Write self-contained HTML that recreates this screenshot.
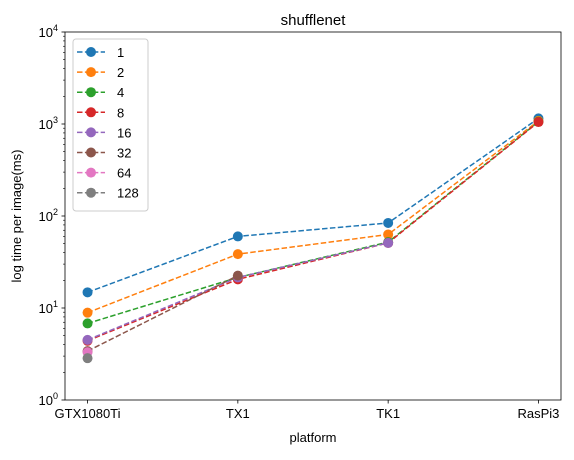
<!DOCTYPE html>
<html><head><meta charset="utf-8"><style>body{margin:0;background:#fff}svg{font-family:"Liberation Sans","DejaVu Sans",sans-serif}</style></head>
<body>
<svg id="c" width="574" height="455" xmlns="http://www.w3.org/2000/svg"></svg>
<script>
const categories=["GTX1080Ti","TX1","TK1","RasPi3"];
const seriesNames=["1","2","4","8","16","32","64","128"];
const colors=["#1f77b4","#ff7f0e","#2ca02c","#d62728","#9467bd","#8c564b","#e377c2","#7f7f7f"];
const s1=[14.8,60,84,1150];
const s2=[8.9,38.5,63,1080];
const s4=[6.8,21.5,52,1060];
const s8=[4.4,20.5,51,1050];
const s16=[4.5,21.5,51];
const s32=[3.4,22.5];
const s64=[3.3];
const s128=[2.85];
const seriesValues=[s1,s2,s4,s8,s16,s32,s64,s128];
const yTicks=[1,10,100,1000,10000];
const yTickLabels=["0","1","2","3","4"];

const svg=document.getElementById('c');const NS="http://www.w3.org/2000/svg";
const L=65,R=561,T=32,B=400;
function X(i){return L+(i+0.15)/3.3*(R-L);}
function Y(v){return B-(Math.log10(v)-0)/4*(B-T);}
function mk(t,a,p){const e=document.createElementNS(NS,t);for(const k in a)e.setAttribute(k,a[k]);(p||svg).appendChild(e);return e;}
// ticks
yTicks.forEach((v,i)=>{const y=Y(v);
 const t=mk('line',{x1:L-3.5,x2:L,y1:y,y2:y,stroke:'#000','stroke-width':0.8});
 
 const tx=mk('text',{x:L-7,y:y+5,'text-anchor':'end','font-size':13});
 
 tx.textContent="10";const sp=mk('tspan',{dy:-6,'font-size':9},tx);sp.textContent=yTickLabels[i];
 if(i<4)for(let m=2;m<10;m++){const yy=Y(v*m);const mt=mk('line',{x1:L-2,x2:L,y1:yy,y2:yy,stroke:'#000','stroke-width':0.6});
 }
});
categories.forEach((c,i)=>{const x=X(i);
 const t=mk('line',{x1:x,x2:x,y1:B,y2:B+3.5,stroke:'#000','stroke-width':0.8});
 
 const tx=mk('text',{x:x,y:B+18,'text-anchor':'middle','font-size':13});
 tx.textContent=c;});
// series
seriesValues.forEach((vals,s)=>{const g=mk('g',{});
 
 const pts=vals.map((v,i)=>X(i)+','+Y(v)).join(' ');
 if(vals.length>1)mk('polyline',{points:pts,fill:'none',stroke:colors[s],'stroke-width':1.5,'stroke-dasharray':'5.5,2.4'},g);
 vals.forEach((v,i)=>{const c=mk('circle',{cx:X(i),cy:Y(v),r:5,fill:colors[s]},g);
 });
});
const fr=mk('rect',{x:L,y:T,width:R-L,height:B-T,fill:'none',stroke:'#000','stroke-width':0.8});

// legend
const lg=mk('g',{});
mk('rect',{x:73,y:39,width:75,height:172,rx:3,fill:'#fff','fill-opacity':0.8,stroke:'#ccc'},lg);
seriesNames.forEach((n,i)=>{const y=52+i*20.1;const e=mk('g',{},lg);
 
 mk('line',{x1:77,x2:105,y1:y,y2:y,stroke:colors[i],'stroke-width':1.5,'stroke-dasharray':'5.5,2.4'},e);
 mk('circle',{cx:91,cy:y,r:5,fill:colors[i]},e);
 const t=mk('text',{x:117,y:y+5,'font-size':13},e);t.textContent=n;});
const ti=mk('text',{x:(L+R)/2,y:25,'text-anchor':'middle','font-size':15});ti.textContent="shufflenet";

const xl=mk('text',{x:(L+R)/2,y:442,'text-anchor':'middle','font-size':13});xl.textContent="platform";

const yl=mk('text',{x:0,y:0,'text-anchor':'middle','font-size':13,transform:'translate(21,'+((T+B)/2)+') rotate(-90)'});yl.textContent="log time per image(ms)";

</script>
</body></html>
